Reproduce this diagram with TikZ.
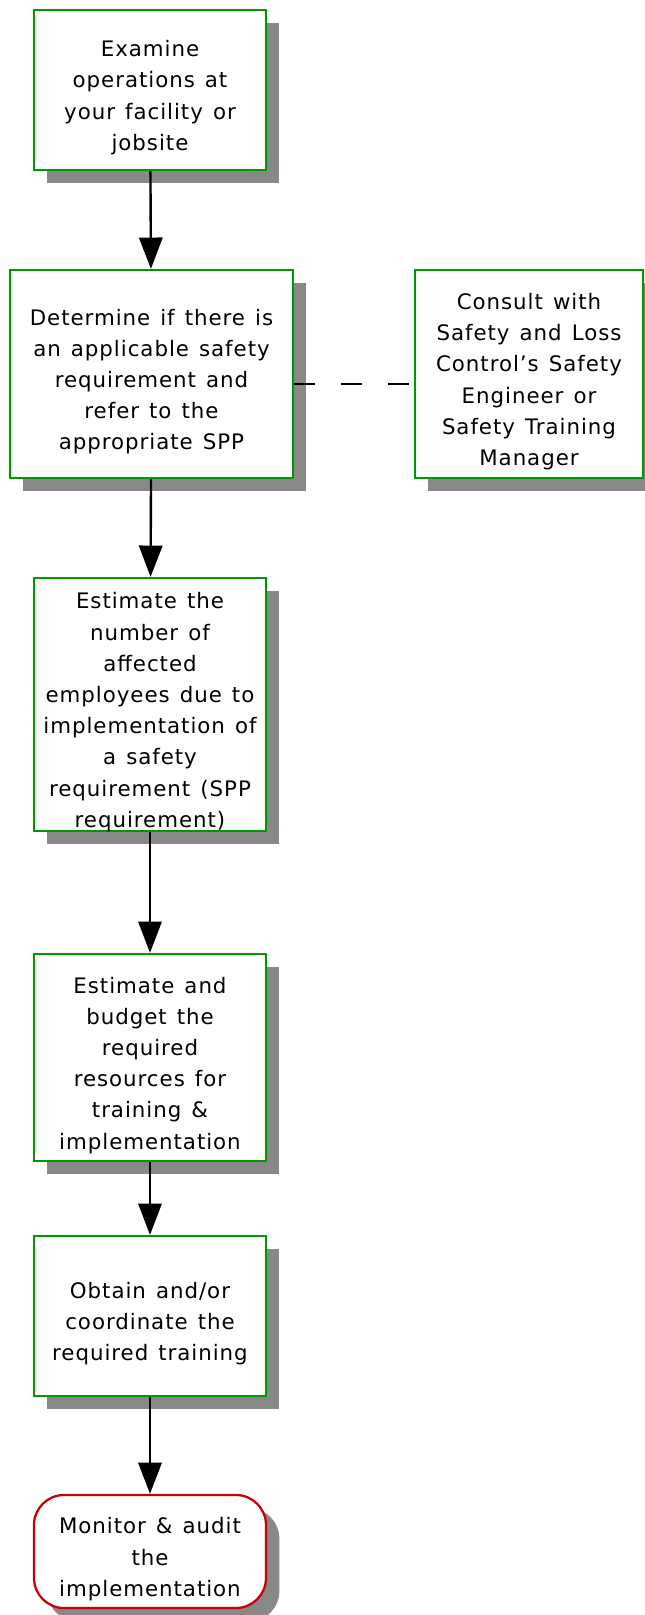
\documentclass[tikz,border=0pt]{standalone}
\usepackage{fontspec}
\setmainfont{DejaVu Sans}[LetterSpace=4.5, WordSpace=1.3]
\usetikzlibrary{arrows.meta,shadows}
\definecolor{boxgreen}{RGB}{0,153,0}
\definecolor{endred}{RGB}{204,0,0}
\definecolor{shadowgray}{RGB}{136,136,136}
% centred lines, set slightly below the middle of their box
\newcommand{\steptext}[1]{\raisebox{-5.5pt}[\height][\depth]{\begin{tabular}{@{}c@{}}#1\end{tabular}}}
\begin{document}
\begin{tikzpicture}[x=0.75pt,y=-0.75pt,
  every node/.style={font=\fontsize{16}{23.4}\selectfont, inner sep=0pt},
  boxshadow/.style={drop shadow={shadow xshift=10pt, shadow yshift=-10pt, fill=shadowgray, opacity=1}},
  stepbox/.style={rectangle, draw=boxgreen, line width=1.7pt, fill=white, boxshadow},
  endbox/.style={rectangle, rounded corners=22.5pt, draw=endred, line width=1.7pt, fill=white, boxshadow},
  flow/.style={line width=1.8pt, -{Triangle[width=17.5pt,length=23.5pt]}},
  dashline/.style={line width=1.8pt, dash pattern=on 15.75pt off 19.5pt}
]
\useasboundingbox (0,0) rectangle (644,1615);

\node[stepbox, minimum width=174pt, minimum height=120pt] (examine) at (150,90)
  {\steptext{Examine\\operations at\\your facility or\\jobsite}};
\node[stepbox, minimum width=212.25pt, minimum height=156pt] (determine) at (151.5,374)
  {\steptext{Determine if there is\\an applicable safety\\requirement and\\refer to the\\appropriate SPP}};
\node[stepbox, minimum width=171pt, minimum height=156pt] (consult) at (529,374)
  {\steptext{Consult with\\Safety and Loss\\Control’s Safety\\Engineer or\\Safety Training\\Manager}};
\node[stepbox, minimum width=174pt, minimum height=189.75pt] (estimate) at (150,704.5)
  {\steptext{Estimate the\\number of\\affected\\employees due to\\implementation of\\a safety\\requirement (SPP\\requirement)}};
\node[stepbox, minimum width=174pt, minimum height=155.25pt] (budget) at (150,1057.5)
  {\steptext{Estimate and\\budget the\\required\\resources for\\training \&\\implementation}};
\node[stepbox, minimum width=174pt, minimum height=120pt] (obtain) at (150,1316)
  {\steptext{Obtain and/or\\coordinate the\\required training}};
\node[endbox, minimum width=174pt, minimum height=84.75pt] (monitor) at (150,1551.5)
  {\steptext{Monitor \& audit\\the\\implementation}};

\draw[flow] (examine) -- (determine);
\draw[flow] (determine) -- (estimate);
\draw[flow] (estimate) -- (budget);
\draw[flow] (budget) -- (obtain);
\draw[flow] (obtain) -- (monitor);
\draw[dashline] ([yshift=-7.5pt]determine.east) -- ([yshift=-7.5pt]consult.west);
\end{tikzpicture}
\end{document}
